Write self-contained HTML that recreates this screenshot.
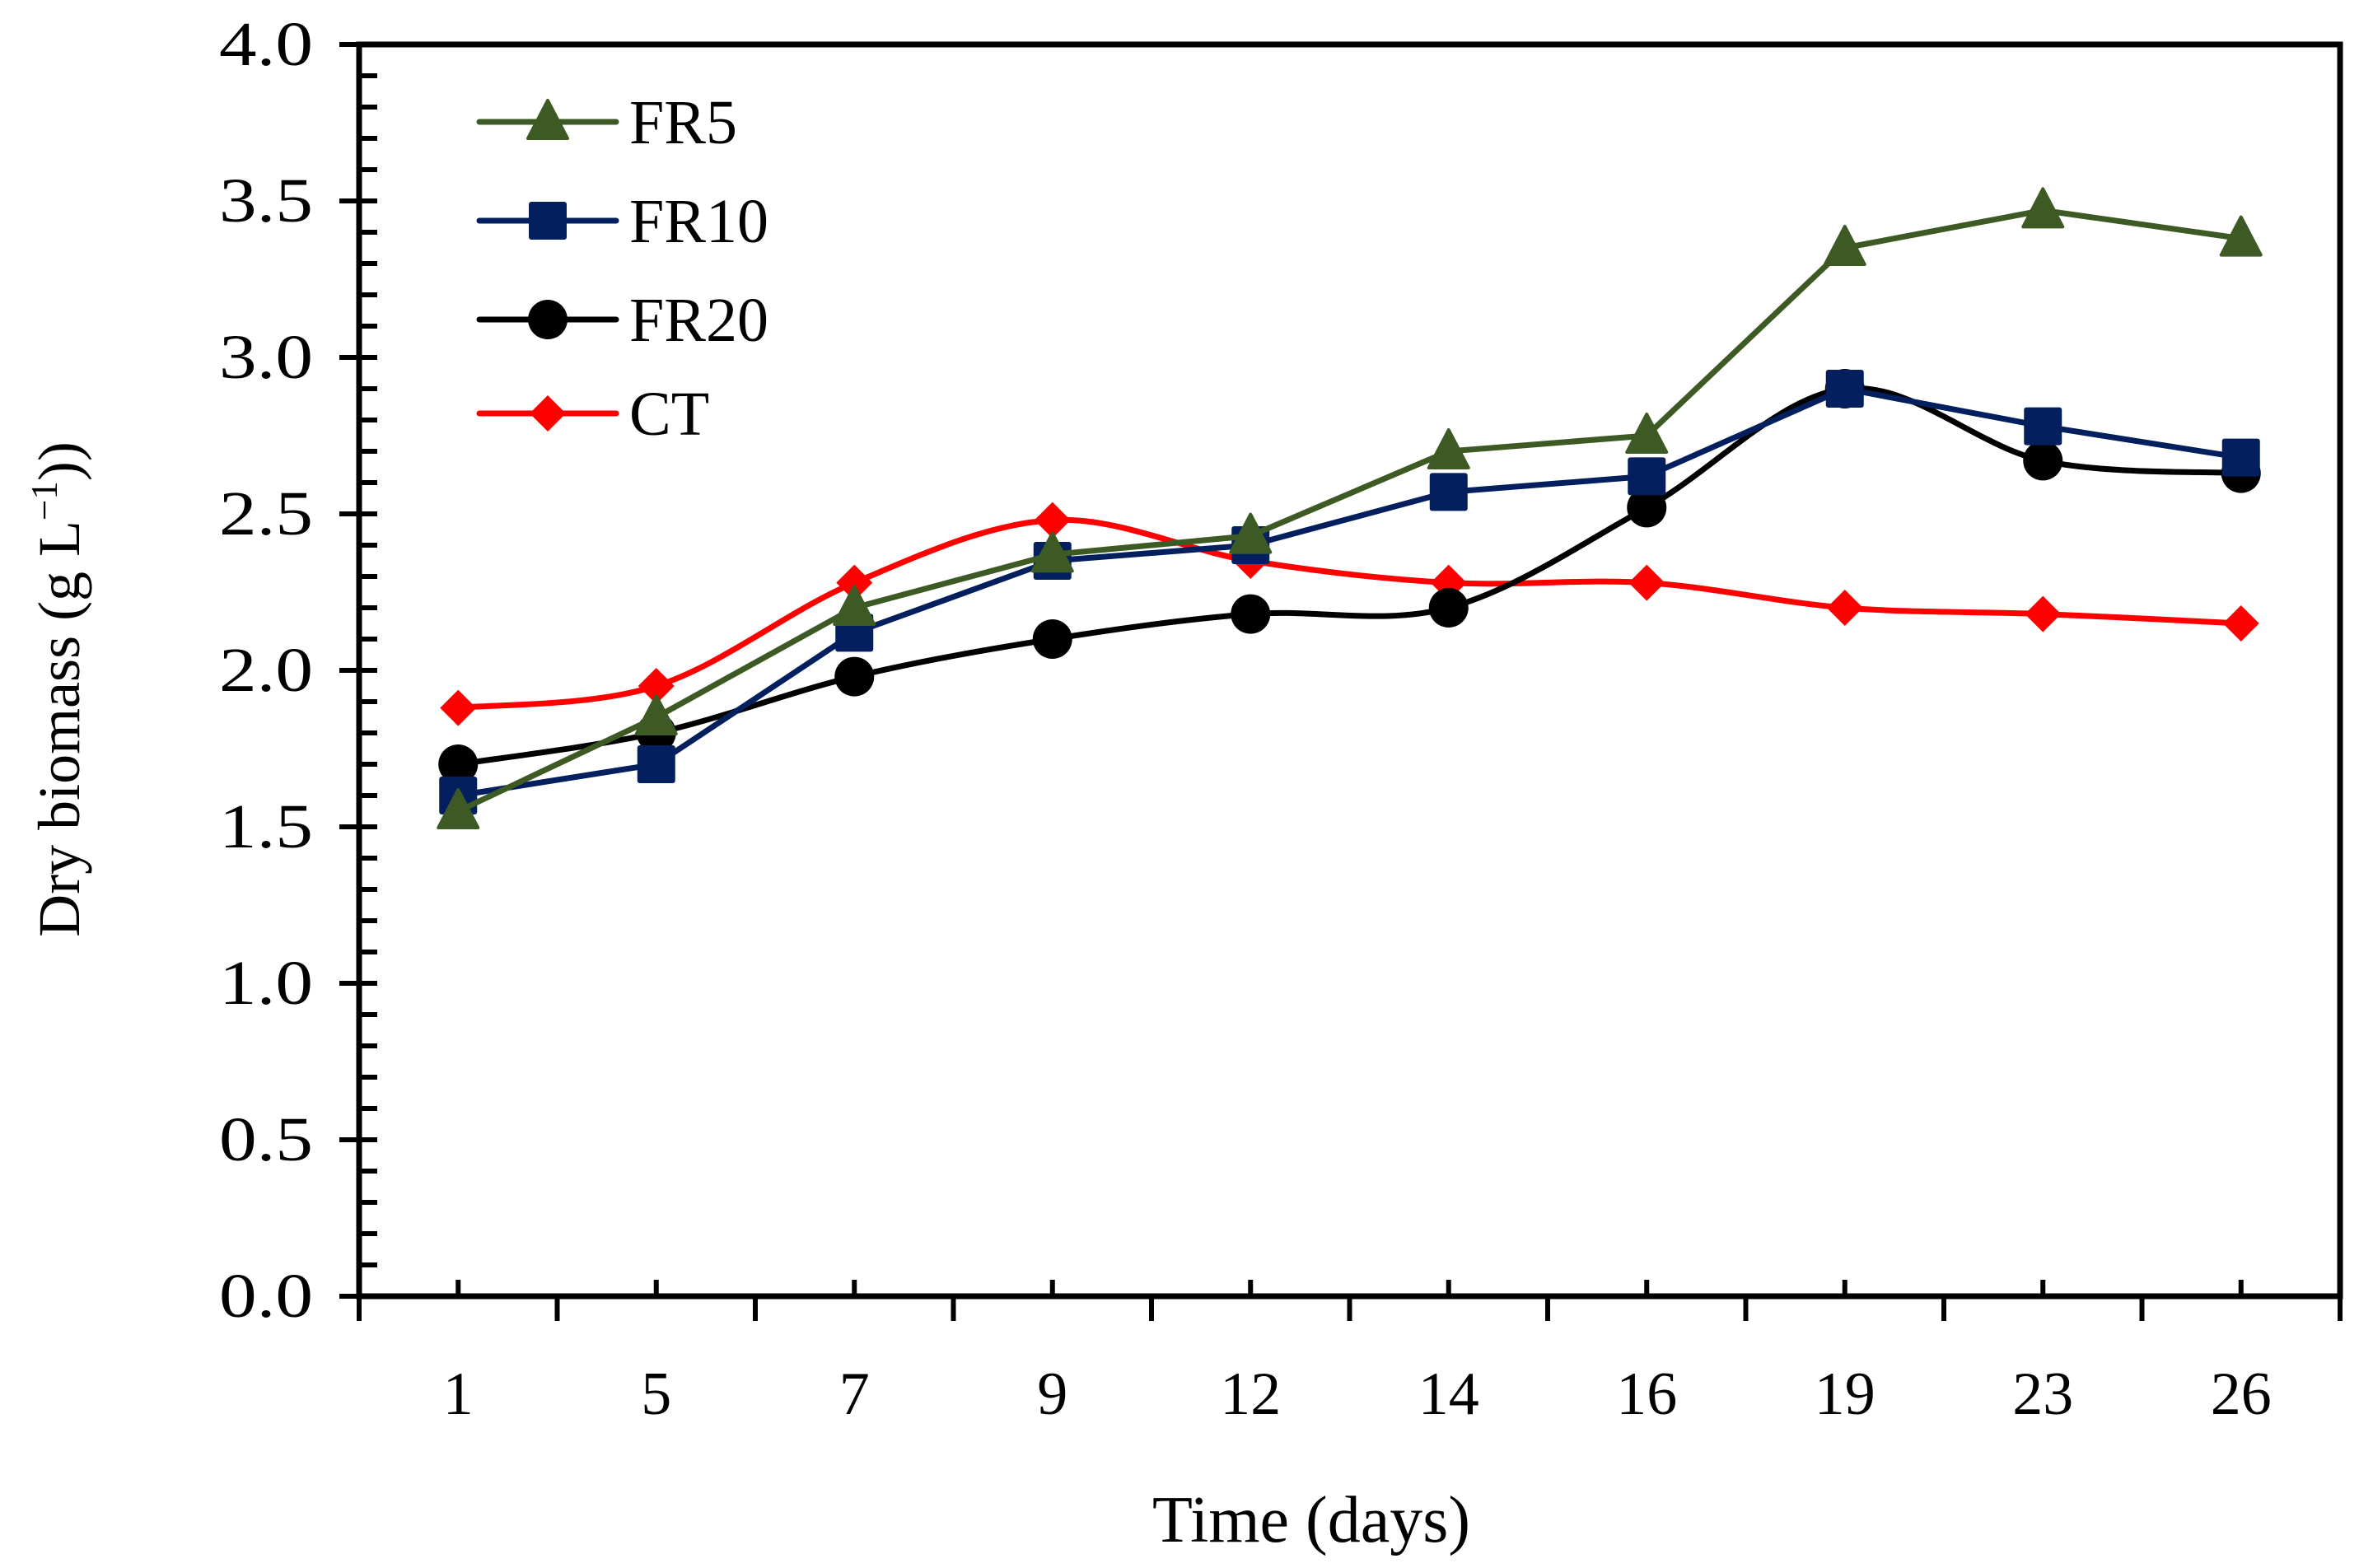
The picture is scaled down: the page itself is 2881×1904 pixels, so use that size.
<!DOCTYPE html>
<html><head><meta charset="utf-8"><style>
html,body{margin:0;padding:0;background:#fff;}
svg text{font-family:"Liberation Serif",serif;fill:#000;}
</style></head><body>
<svg id="chart" width="2881" height="1899" viewBox="0 0 2881 1899" xmlns="http://www.w3.org/2000/svg"></svg>
<script>
const categories = ["1","5","7","9","12","14","16","19","23","26"];
const fr5 = [1.55,1.85,2.2,2.37,2.43,2.7,2.75,3.35,3.47,3.38];
const fr10 = [1.6,1.7,2.12,2.35,2.4,2.57,2.62,2.9,2.78,2.68];
const fr20 = [1.7,1.8,1.98,2.1,2.18,2.2,2.52,2.9,2.67,2.63];
const ct = [1.88,1.95,2.28,2.48,2.35,2.28,2.28,2.2,2.18,2.15];
const yTicks = ["0.0","0.5","1.0","1.5","2.0","2.5","3.0","3.5","4.0"];

const svg = document.getElementById('chart');
const NS = 'http://www.w3.org/2000/svg';
const L=436, R=2841, T=54, B=1574, YMAX=4;
const band=(R-L)/categories.length;
function xs(i){return L+band*(i+0.5);}
function ys(v){return B-(v/YMAX)*(B-T);}
function mk(tag,attrs,parent){const e=document.createElementNS(NS,tag);for(const k in attrs)e.setAttribute(k,attrs[k]);(parent||svg).appendChild(e);return e;}

const axes=mk('g',{});


mk('rect',{x:L,y:T,width:R-L,height:B-T,fill:'none',stroke:'#000','stroke-width':7},axes);
for(let k=0;k<=40;k++){
  const v=k*0.1,y=ys(v);
  if(k%5===0){
    mk('line',{x1:L-24,x2:L,y1:y,y2:y,stroke:'#000','stroke-width':6},axes);
    if(k<40&&k>0) mk('line',{x1:L,x2:L+22,y1:y,y2:y,stroke:'#000','stroke-width':6},axes);
  } else mk('line',{x1:L,x2:L+22,y1:y,y2:y,stroke:'#000','stroke-width':6},axes);
}
yTicks.forEach((t,i)=>{
  const tx=mk('text',{x:L-56,y:ys(i*0.5)+25,'font-size':76,'text-anchor':'end','textLength':114,'lengthAdjust':'spacingAndGlyphs'});
  tx.textContent=t;
  
  
});
for(let i=0;i<=categories.length;i++){
  const x=L+band*i;
  mk('line',{x1:x,x2:x,y1:B,y2:B+30,stroke:'#000','stroke-width':6},axes);
}
categories.forEach((c,i)=>{
  mk('line',{x1:xs(i),x2:xs(i),y1:B,y2:B-20,stroke:'#000','stroke-width':6},axes);
  const tx=mk('text',{x:xs(i),y:B+143,'font-size':74,'text-anchor':'middle'});
  tx.textContent=c;
  
  
});
const xt=mk('text',{x:1592,y:1872,'font-size':80,'text-anchor':'middle'});
xt.textContent='Time (days)';


const yt=mk('text',{x:0,y:0,'font-size':72,'text-anchor':'middle',transform:'translate(96,837) rotate(-90)'});
yt.innerHTML='Dry biomass (g L<tspan dy="-27" font-size="45">−1</tspan><tspan dy="27">))</tspan>';



function pathStraight(pts){return pts.map((p,i)=>(i?'L':'M')+p[0]+','+p[1]).join(' ');}
function pathSmooth(pts){
  let d='M'+pts[0][0]+','+pts[0][1];
  for(let i=0;i<pts.length-1;i++){
    const p0=pts[i-1]||pts[i],p1=pts[i],p2=pts[i+1],p3=pts[i+2]||p2;
    const c1=[p1[0]+(p2[0]-p0[0])/6,p1[1]+(p2[1]-p0[1])/6];
    const c2=[p2[0]-(p3[0]-p1[0])/6,p2[1]-(p3[1]-p1[1])/6];
    d+=' C'+c1+' '+c2+' '+p2;
  }
  return d;
}
function marker(type,x,y,color,g){
  if(type==='tri') return mk('path',{d:`M${x},${y-26} L${x+24},${y+20} L${x-24},${y+20} Z`,fill:color,stroke:color,'stroke-width':4,'stroke-linejoin':'round'},g);
  if(type==='sq') return mk('rect',{x:x-23,y:y-23,width:46,height:46,rx:3,fill:color},g);
  if(type==='circ') return mk('circle',{cx:x,cy:y,r:24,fill:color},g);
  return mk('path',{d:`M${x},${y-22} L${x+22},${y} L${x},${y+22} L${x-22},${y} Z`,fill:color},g);
}
const series=[
  {name:'FR5',vals:fr5,color:'#3d5a24',m:'tri',smooth:false},
  {name:'FR10',vals:fr10,color:'#031f5e',m:'sq',smooth:false},
  {name:'FR20',vals:fr20,color:'#000000',m:'circ',smooth:true},
  {name:'CT',vals:ct,color:'#ff0000',m:'dia',smooth:true}
];
[...series].reverse().forEach(s=>{
  const g=mk('g',{});
  
  
  const pts=s.vals.map((v,i)=>[xs(i),ys(v)]);
  mk('path',{d:s.smooth?pathSmooth(pts):pathStraight(pts),fill:'none',stroke:s.color,'stroke-width':7,'stroke-linejoin':'round'},g);
  pts.forEach(p=>{
    const m=marker(s.m,p[0],p[1],s.color,g);
    
    
  });
});
const lg=mk('g',{});


const rowsY=[148,268,388,502];
series.forEach((s,i)=>{
  const e=mk('g',{},lg);
  
  
  const y=rowsY[i];
  mk('line',{x1:582,x2:748,y1:y,y2:y,stroke:s.color,'stroke-width':7,'stroke-linecap':'round'},e);
  marker(s.m,665,y,s.color,e);
  const t=mk('text',{x:764,y:y+26,'font-size':76},e);
  t.textContent=s.name;
});
</script>
</body></html>
